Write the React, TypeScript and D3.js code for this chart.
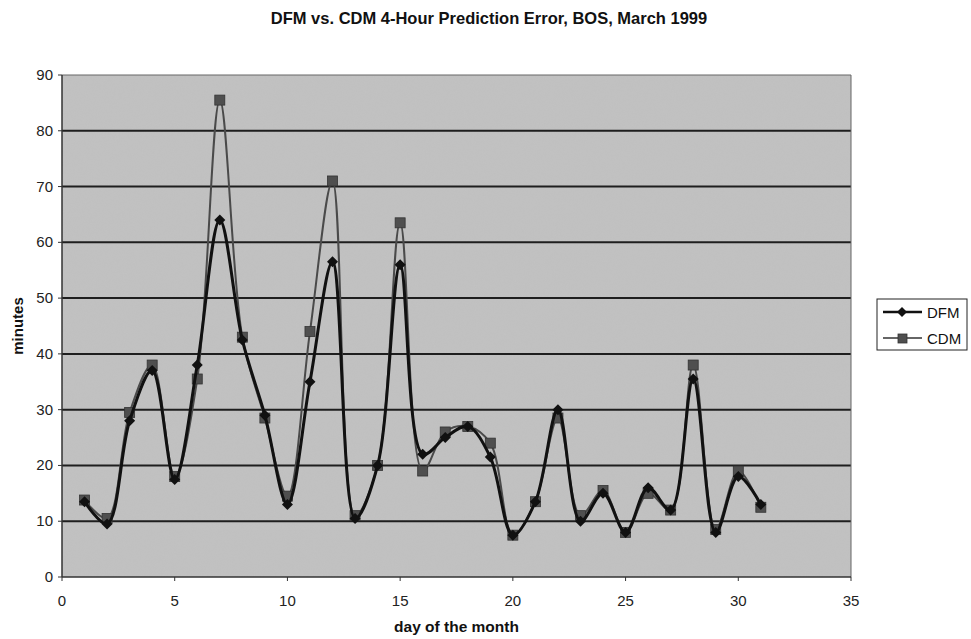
import React from "react";
import * as d3 from "d3";

const days = [1,2,3,4,5,6,7,8,9,10,11,12,13,14,15,16,17,18,19,20,21,22,23,24,25,26,27,28,29,30,31];
const dfm = [13.5,9.5,28,37,17.5,38,64,42.5,29,13,35,56.5,10.5,20,56,22,25,27,21.5,7.5,13.5,30,10,15,8,16,12,35.5,8,18,13];
const cdm = [13.8,10.5,29.5,38,18,35.5,85.5,43,28.5,14.5,44,71,11,20,63.5,19,26,27,24,7.5,13.5,28.5,11,15.5,8,15,12,38,8.5,19,12.5];
const xTicks = [0,5,10,15,20,25,30,35];
const yTicks = [0,10,20,30,40,50,60,70,80,90];
const seriesNames = ["DFM", "CDM"];

export default function App() {
  const W = 971, H = 639;
  const left = 62, right = 851, top = 75, bottom = 577;
  const x = d3.scaleLinear().domain([0, 35]).range([left, right]);
  const y = d3.scaleLinear().domain([0, 90]).range([bottom, top]);
  const line = d3.line<number>()
    .x((_, i) => x(days[i]))
    .y((d) => y(d))
    .curve(d3.curveCatmullRom.alpha(0.5));
  const font = "Arial, 'Liberation Sans', sans-serif";
  const diamond = (cx: number, cy: number, r: number) =>
    `M${cx},${cy - r}L${cx + r},${cy}L${cx},${cy + r}L${cx - r},${cy}Z`;

  return (
    <svg width={W} height={H} style={{ position: "absolute", left: 0, top: 0, background: "#fff" }} fontFamily={font}>
      <defs>
        <filter id="grain" x="0" y="0" width="100%" height="100%">
          <feTurbulence type="fractalNoise" baseFrequency="0.9" numOctaves="2" seed="3" result="n" />
          <feColorMatrix type="matrix" values="0 0 0 0 0.5  0 0 0 0 0.5  0 0 0 0 0.5  0 0 0 0.5 0" />
        </filter>
      </defs>
      <text x={489} y={24} textAnchor="middle" fontSize={16.5} fontWeight="bold" fill="#111">
        DFM vs. CDM 4-Hour Prediction Error, BOS, March 1999
      </text>
      <rect x={left} y={top} width={right - left} height={bottom - top} fill="#c2c2c2" />
      <rect x={left} y={top} width={right - left} height={bottom - top} filter="url(#grain)" opacity={0.7} />
      {yTicks.map((t) => (
        <g key={t}>
          {t > 0 && t < 90 && (
            <line x1={left} x2={right} y1={y(t)} y2={y(t)} stroke="#1e1e1e" strokeWidth={2} />
          )}
          <line x1={left - 4} x2={left} y1={y(t)} y2={y(t)} stroke="#333" strokeWidth={1} />
          <text x={left - 9} y={y(t) + 5} textAnchor="end" fontSize={15} fill="#222">{t}</text>
        </g>
      ))}
      <line x1={left} x2={right} y1={top} y2={top} stroke="#666" strokeWidth={1} />
      <line x1={right} x2={right} y1={top} y2={bottom} stroke="#666" strokeWidth={1} />
      <line x1={left} x2={left} y1={top} y2={bottom} stroke="#333" strokeWidth={1.5} />
      <line x1={left} x2={right} y1={bottom} y2={bottom} stroke="#333" strokeWidth={1.5} />
      {xTicks.map((t) => (
        <g key={t}>
          <line x1={x(t)} x2={x(t)} y1={bottom} y2={bottom + 4} stroke="#333" strokeWidth={1} />
          <text x={x(t)} y={bottom + 29} textAnchor="middle" fontSize={15} fill="#222">{t}</text>
        </g>
      ))}
      <text x={(left + right) / 2} y={632} textAnchor="middle" fontSize={15.5} fontWeight="bold" fill="#111">
        day of the month
      </text>
      <text transform={`translate(23,${(top + bottom) / 2}) rotate(-90)`} textAnchor="middle" fontSize={15} fontWeight="bold" fill="#111">
        minutes
      </text>

      <path d={line(cdm) || ""} fill="none" stroke="#4a4a4a" strokeWidth={2} />
      {cdm.map((v, i) => (
        <rect key={"c" + i} x={x(days[i]) - 5} y={y(v) - 5} width={10} height={10} fill="#4f4f4f" stroke="#333" strokeWidth={0.8} />
      ))}
      <path d={line(dfm) || ""} fill="none" stroke="#111" strokeWidth={3} />
      {dfm.map((v, i) => (
        <path key={"d" + i} d={diamond(x(days[i]), y(v), 5.5)} fill="#111" />
      ))}

      <rect x={877} y={299} width={90} height={51} fill="#fff" stroke="#222" strokeWidth={1} />
      <line x1={883} x2={922} y1={312} y2={312} stroke="#111" strokeWidth={2.5} />
      <path d={diamond(902, 312, 5)} fill="#111" />
      <text x={927} y={317.5} fontSize={15} fill="#111">{seriesNames[0]}</text>
      <line x1={883} x2={922} y1={338} y2={338} stroke="#333" strokeWidth={1.5} />
      <rect x={898} y={334} width={9} height={9} fill="#4f4f4f" stroke="#333" strokeWidth={0.8} />
      <text x={927} y={343.5} fontSize={15} fill="#111">{seriesNames[1]}</text>
    </svg>
  );
}
